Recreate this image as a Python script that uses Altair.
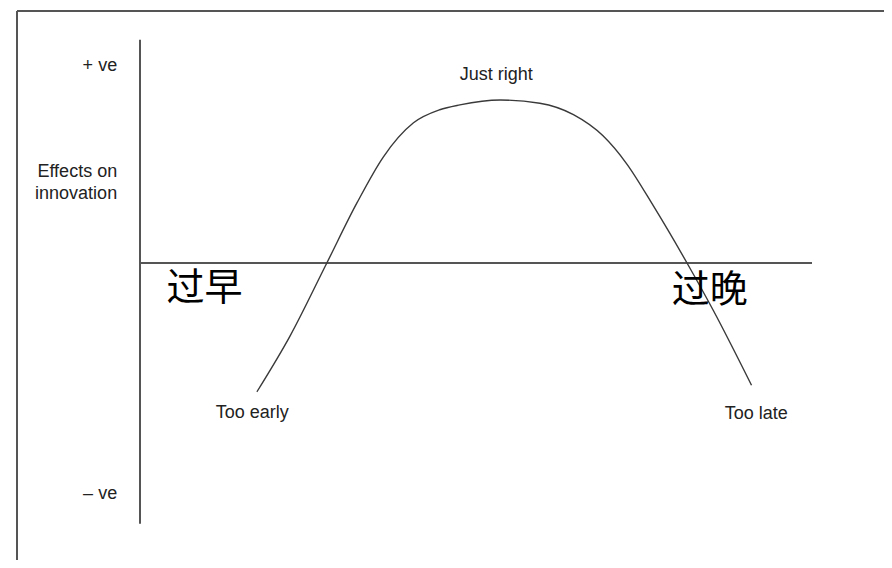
import altair as alt
import pandas as pd

# Curve: timing (x) vs effect on innovation (y)
curve_x = [1.74, 2.23, 2.78, 3.23, 3.62, 4.07, 4.46, 4.76, 5.36, 5.95, 6.45, 6.89, 7.24, 7.64, 8.14, 8.53, 9.10]
curve_y = [-0.79, -0.45, 0.00, 0.37, 0.65, 0.86, 0.94, 0.97, 1.00, 0.98, 0.91, 0.78, 0.61, 0.35, 0.00, -0.29, -0.75]

# Axes extents
axis_x_end = 10.0
axis_y_top = 1.37
axis_y_bottom = -1.60

# Left side labels (right aligned)
left_text = ["+ ve", "Effects on", "innovation", "\u2013 ve"]
left_x = [-0.34, -0.34, -0.34, -0.34]
left_y = [1.18, 0.53, 0.39, -1.45]

# Curve labels (centered)
mid_text = ["Just right", "Too early", "Too late"]
mid_x = [5.30, 1.67, 9.17]
mid_y = [1.12, -0.95, -0.96]

# Chinese labels
cn_text = ["过早", "过晚"]
cn_x = [0.96, 8.48]
cn_y = [-0.23, -0.24]

xs = alt.Scale(domain=[0, 10], range=[132, 804])
ys = alt.Scale(domain=[0, 1], range=[255, 92])

curve_df = pd.DataFrame({"x": curve_x, "y": curve_y})
hline_df = pd.DataFrame({"x": [0.0], "x2": [axis_x_end], "y": [0.0]})
vline_df = pd.DataFrame({"x": [0.0], "y": [axis_y_top], "y2": [axis_y_bottom]})
left_df = pd.DataFrame({"t": left_text, "x": left_x, "y": left_y})
mid_df = pd.DataFrame({"t": mid_text, "x": mid_x, "y": mid_y})
cn_df = pd.DataFrame({"t": cn_text, "x": cn_x, "y": cn_y})

frame_top = alt.Chart(hline_df).mark_rule(color="#555", strokeWidth=2).encode(
    x=alt.value(9), x2=alt.value(876), y=alt.value(3))
frame_left = alt.Chart(hline_df).mark_rule(color="#555", strokeWidth=2).encode(
    x=alt.value(9), y=alt.value(3), y2=alt.value(552))

hline = alt.Chart(hline_df).mark_rule(color="#555", strokeWidth=2).encode(
    x=alt.X("x:Q", scale=xs, axis=None), x2="x2:Q",
    y=alt.Y("y:Q", scale=ys, axis=None))
vline = alt.Chart(vline_df).mark_rule(color="#555", strokeWidth=2).encode(
    x=alt.X("x:Q", scale=xs, axis=None),
    y=alt.Y("y:Q", scale=ys, axis=None), y2="y2:Q")

curve = alt.Chart(curve_df).mark_line(color="#3a3a3a", strokeWidth=1.4, interpolate="monotone").encode(
    x=alt.X("x:Q", scale=xs, axis=None),
    y=alt.Y("y:Q", scale=ys, axis=None))

font_en = "Liberation Sans"
left_lbl = alt.Chart(left_df).mark_text(align="right", baseline="alphabetic", font=font_en,
                                        fontSize=18, color="#222").encode(
    x=alt.X("x:Q", scale=xs, axis=None), y=alt.Y("y:Q", scale=ys, axis=None), text="t:N")
mid_lbl = alt.Chart(mid_df).mark_text(align="center", baseline="alphabetic", font=font_en,
                                      fontSize=18, color="#222").encode(
    x=alt.X("x:Q", scale=xs, axis=None), y=alt.Y("y:Q", scale=ys, axis=None), text="t:N")
cn_lbl = alt.Chart(cn_df).mark_text(align="center", baseline="alphabetic", font="Noto Sans CJK SC",
                                    fontSize=38, color="#000").encode(
    x=alt.X("x:Q", scale=xs, axis=None), y=alt.Y("y:Q", scale=ys, axis=None), text="t:N")

chart = alt.layer(frame_top, frame_left, hline, vline, curve, left_lbl, mid_lbl, cn_lbl).properties(
    width=876, height=552, autosize=alt.AutoSizeParams(type="none"), padding=0,
    background="white"
).configure_view(stroke=None)

chart.save("out.html", embed_options={"renderer": "svg", "actions": False})
